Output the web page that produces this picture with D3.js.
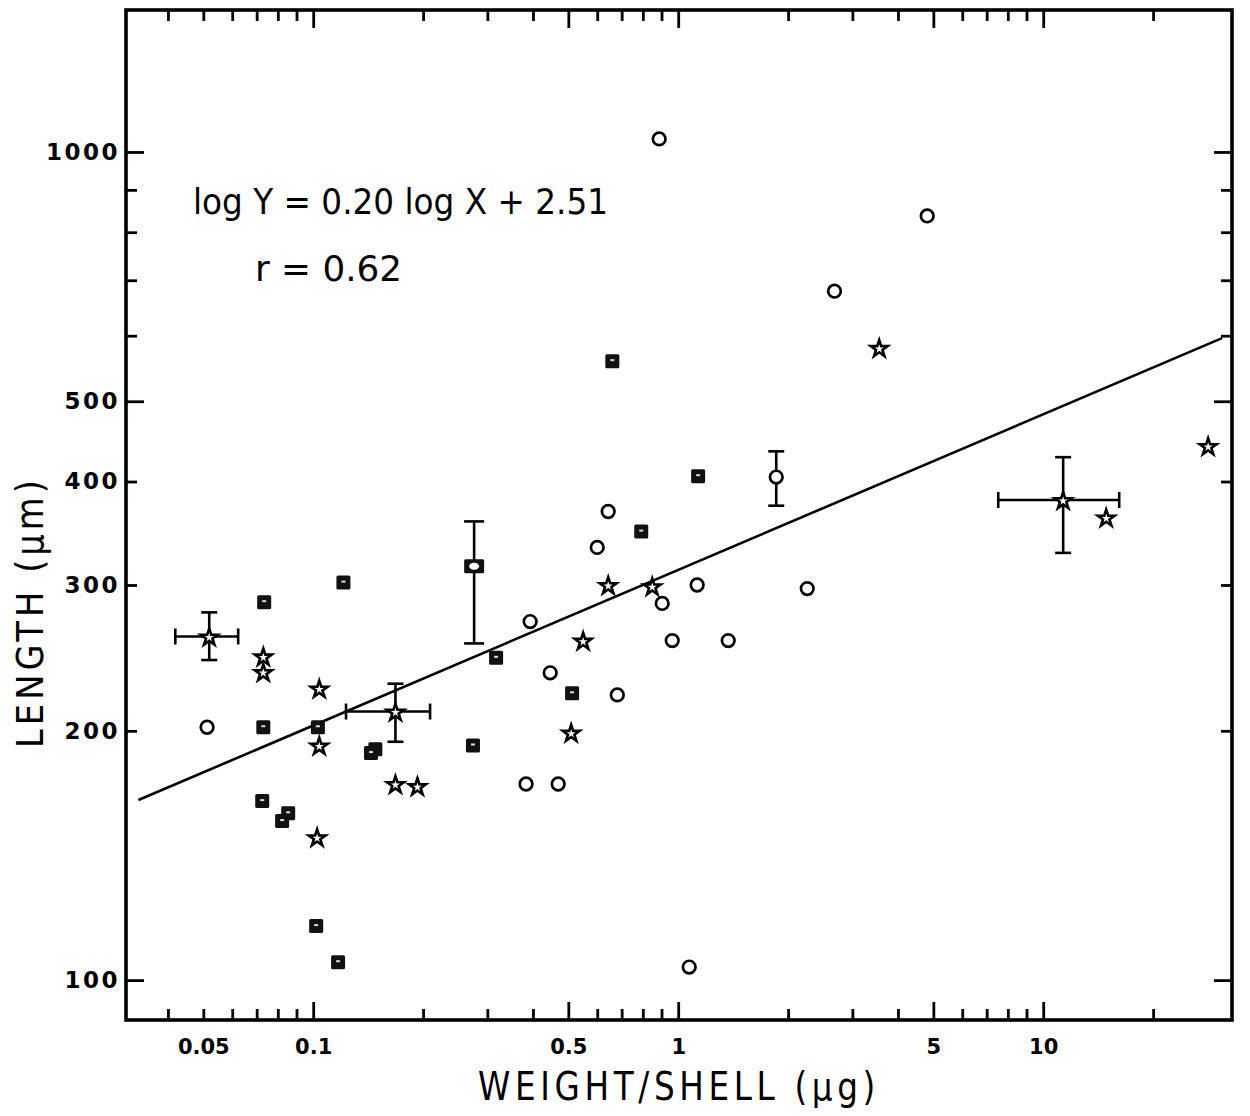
<!DOCTYPE html>
<html>
<head>
<meta charset="utf-8">
<script src="https://cdn.jsdelivr.net/npm/d3@7"></script>
<style>
  body { margin: 0; background: #fff; }
  svg { display: block; }
</style>
</head>
<body>
<div id="chart"></div>
<script>
// values (x = weight/shell in µg, y = length in µm)
const circles = [
    [0.887, 1037], [4.81, 837], [2.68, 679], [0.643, 368], [0.600, 333],
    [0.393, 271], [0.446, 235], [0.681, 221], [0.904, 285], [0.963, 257],
    [1.127, 300], [1.371, 257], [2.257, 297], [0.0512, 202], [0.383, 172.5],
    [0.469, 172.5], [1.072, 103.7]
];
const squares = [
    [0.660, 559], [1.134, 406], [0.792, 348], [0.121, 302], [0.0734, 286],
    [0.317, 245], [0.512, 222], [0.274, 192], [0.103, 202], [0.0730, 202],
    [0.148, 190], [0.144, 188], [0.0725, 164.5], [0.0854, 159], [0.0822, 155.6],
    [0.1019, 116.2], [0.117, 105.1]
];
const stars = [
    [3.554, 580], [28.3, 441.5], [14.88, 362], [0.643, 300], [0.849, 299],
    [0.549, 257], [0.509, 199], [0.0730, 246], [0.0730, 235.5], [0.1039, 225],
    [0.1039, 192], [0.168, 172.5], [0.193, 171.5], [0.1025, 148.8]
];
// points with error bars
const errorPoints = [
    {kind: 'star', x: 0.0519, y: 260, xLo: 0.0419, xHi: 0.0623, yLo: 243.5, yHi: 278},
    {kind: 'star', x: 0.168, y: 211, xLo: 0.123, xHi: 0.209, yLo: 194, yHi: 228},
    {kind: 'star', x: 11.34, y: 380, xLo: 7.53, xHi: 16.15, yLo: 328, yHi: 428},
    {kind: 'bigsquare', x: 0.276, y: 316, xLo: null, xHi: null, yLo: 255, yHi: 358},
    {kind: 'circle', x: 1.856, y: 405, xLo: null, xHi: null, yLo: 374, yHi: 435}
];
// regression line end points
const fitLine = [[0.0332, 165], [30.9, 596]];

const xTicks = [0.04, 0.05, 0.06, 0.07, 0.08, 0.09, 0.1, 0.2, 0.3, 0.4, 0.5, 0.6, 0.7, 0.8, 0.9,
    1, 2, 3, 4, 5, 6, 7, 8, 9, 10, 20];
const xMajor = [0.1, 0.5, 1, 5, 10];
const xLabels = {0.05: '0.05', 0.1: '0.1', 0.5: '0.5', 1: '1', 5: '5', 10: '10'};
const yTicks = [100, 200, 300, 400, 500, 600, 700, 800, 900, 1000];
const yMajor = [100, 500, 1000];
const yLabels = {100: '100', 200: '200', 300: '300', 400: '400', 500: '500', 1000: '1000'};

const svgWidth = 1250, svgHeight = 1116;
const svg = d3.select('#chart').append('svg')
    .attr('width', svgWidth)
    .attr('height', svgHeight);

const x = d3.scaleLog().domain([0.0307, 32.9]).range([126, 1232]);
const y = d3.scaleLog().domain([89.5, 1484]).range([1020, 10]);

const plotLeft = x.range()[0], plotRight = x.range()[1];
const plotTop = y.range()[1], plotBottom = y.range()[0];

// ticks, all pointing inwards
function styleTicks(g, major, isX) {
    g.select('.domain').remove();
    g.selectAll('.tick line')
        .attr('stroke', '#000')
        .attr('stroke-width', 2.8);
    g.selectAll('.tick line').each(function (d) {
        const len = major.includes(d) ? 18 : 11;
        const line = d3.select(this);
        if (isX) line.attr('y2', +line.attr('y2') < 0 ? -len : len);
        else line.attr('x2', +line.attr('x2') < 0 ? -len : len);
    });
}

const gBottom = svg.append('g')
    .attr('transform', `translate(0,${plotBottom})`)
    .call(d3.axisBottom(x).tickValues(xTicks).tickSize(-11).tickPadding(19)
        .tickFormat(d => xLabels[d] || ''));
styleTicks(gBottom, xMajor, true);
gBottom.selectAll('text')
    .attr('fill', '#000')
    .style('font-family', '"DejaVu Sans", sans-serif')
    .style('font-weight', 'bold')
    .style('font-size', '21px');

const gTop = svg.append('g')
    .attr('transform', `translate(0,${plotTop})`)
    .call(d3.axisTop(x).tickValues(xTicks).tickSize(-11).tickFormat(''));
styleTicks(gTop, xMajor, true);

const gLeft = svg.append('g')
    .attr('transform', `translate(${plotLeft},0)`)
    .call(d3.axisLeft(y).tickValues(yTicks).tickSize(-11).tickPadding(6)
        .tickFormat(d => yLabels[d] || ''));
styleTicks(gLeft, yMajor, false);
gLeft.selectAll('text')
    .attr('fill', '#000')
    .style('font-family', '"DejaVu Sans", sans-serif')
    .style('font-weight', 'bold')
    .style('font-size', '23px')
    .style('letter-spacing', '2.5px');

const gRight = svg.append('g')
    .attr('transform', `translate(${plotRight},0)`)
    .call(d3.axisRight(y).tickValues(yTicks).tickSize(-11).tickFormat(''));
styleTicks(gRight, yMajor, false);

// frame
svg.append('rect')
    .attr('x', plotLeft)
    .attr('y', plotTop)
    .attr('width', plotRight - plotLeft)
    .attr('height', plotBottom - plotTop)
    .attr('fill', 'none')
    .attr('stroke', '#000')
    .attr('stroke-width', 3.6);

// regression line
svg.append('path')
    .datum(fitLine)
    .attr('d', d3.line().x(d => x(d[0])).y(d => y(d[1])))
    .attr('fill', 'none')
    .attr('stroke', '#000')
    .attr('stroke-width', 2.6);

// error bars
const capHalf = 8;
const errG = svg.append('g')
    .attr('stroke', '#000')
    .attr('stroke-width', 2.6);
errorPoints.forEach(p => {
    const cx = x(p.x), cy = y(p.y);
    const capW = p.kind === 'bigsquare' ? 10 : capHalf;
    errG.append('line').attr('x1', cx).attr('x2', cx).attr('y1', y(p.yLo)).attr('y2', y(p.yHi));
    errG.append('line').attr('x1', cx - capW).attr('x2', cx + capW).attr('y1', y(p.yLo)).attr('y2', y(p.yLo));
    errG.append('line').attr('x1', cx - capW).attr('x2', cx + capW).attr('y1', y(p.yHi)).attr('y2', y(p.yHi));
    if (p.xLo !== null) {
        errG.append('line').attr('x1', x(p.xLo)).attr('x2', x(p.xHi)).attr('y1', cy).attr('y2', cy);
        errG.append('line').attr('x1', x(p.xLo)).attr('x2', x(p.xLo)).attr('y1', cy - capHalf).attr('y2', cy + capHalf);
        errG.append('line').attr('x1', x(p.xHi)).attr('x2', x(p.xHi)).attr('y1', cy - capHalf).attr('y2', cy + capHalf);
    }
});

// open circles
const circleData = circles.concat(errorPoints.filter(p => p.kind === 'circle').map(p => [p.x, p.y]));
svg.append('g').selectAll('circle')
    .data(circleData)
    .enter().append('circle')
    .attr('cx', d => x(d[0]))
    .attr('cy', d => y(d[1]))
    .attr('r', 6.3)
    .attr('fill', '#fff')
    .attr('stroke', '#000')
    .attr('stroke-width', 2.7);

// filled squares, with the small white fleck of the print
const sq = svg.append('g').selectAll('g')
    .data(squares)
    .enter().append('g')
    .attr('transform', d => `translate(${x(d[0])},${y(d[1])})`);
sq.append('rect')
    .attr('x', -7).attr('y', -7)
    .attr('width', 14).attr('height', 14)
    .attr('rx', 1.5)
    .attr('fill', '#111');
sq.append('rect')
    .attr('x', -2).attr('y', -2)
    .attr('width', 4).attr('height', 2)
    .attr('fill', '#ddd');

const big = svg.append('g').selectAll('g')
    .data(errorPoints.filter(p => p.kind === 'bigsquare'))
    .enter().append('g')
    .attr('transform', d => `translate(${x(d.x)},${y(d.y)})`);
big.append('rect')
    .attr('x', -10).attr('y', -7)
    .attr('width', 20).attr('height', 14)
    .attr('rx', 1.5)
    .attr('fill', '#111');
big.append('ellipse')
    .attr('rx', 5).attr('ry', 3.5)
    .attr('fill', '#fff');

// open stars
const starData = stars.concat(errorPoints.filter(p => p.kind === 'star').map(p => [p.x, p.y]));
svg.append('g').selectAll('path')
    .data(starData)
    .enter().append('path')
    .attr('d', d3.symbol(d3.symbolStar, 88))
    .attr('transform', d => `translate(${x(d[0])},${y(d[1]) + 1})`)
    .attr('fill', '#fff')
    .attr('stroke', '#000')
    .attr('stroke-width', 2.6)
    .attr('stroke-linejoin', 'miter');

// equation
const condensed = '"Liberation Sans Narrow", "DejaVu Sans Condensed", "Roboto", sans-serif';
svg.append('text')
    .attr('x', 193)
    .attr('y', 214)
    .attr('textLength', 415)
    .attr('lengthAdjust', 'spacingAndGlyphs')
    .style('font-family', condensed)
    .style('font-size', '36px')
    .text('log Y = 0.20  log X + 2.51');

svg.append('text')
    .attr('x', 255)
    .attr('y', 281)
    .attr('textLength', 147)
    .attr('lengthAdjust', 'spacingAndGlyphs')
    .style('font-family', condensed)
    .style('font-size', '36px')
    .text('r  = 0.62');

// axis titles
svg.append('text')
    .attr('x', 478)
    .attr('y', 1100)
    .attr('textLength', 402)
    .attr('lengthAdjust', 'spacingAndGlyphs')
    .style('font-family', condensed)
    .style('font-size', '39px')
    .style('letter-spacing', '5px')
    .text('WEIGHT/SHELL  (μg)');

svg.append('text')
    .attr('transform', 'translate(43,748) rotate(-90)')
    .attr('textLength', 272)
    .attr('lengthAdjust', 'spacingAndGlyphs')
    .style('font-family', condensed)
    .style('font-size', '37px')
    .style('letter-spacing', '4px')
    .text('LENGTH  (μm)');
</script>
</body>
</html>
